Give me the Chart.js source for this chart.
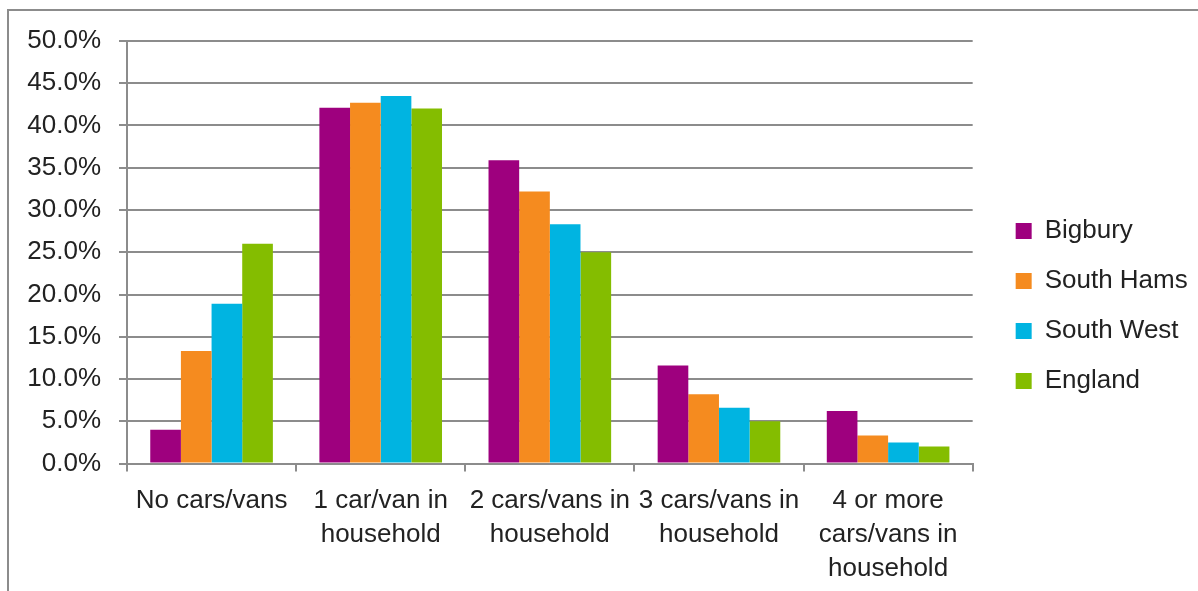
<!DOCTYPE html>
<html>
<head>
<meta charset="utf-8">
<script src="https://cdn.jsdelivr.net/npm/chart.js@4"></script>
<style>
  body { margin: 0; background: #fff; overflow: hidden; }
  #frame { position: absolute; left: 7px; top: 9px; width: 1400px; height: 800px; border: 2px solid #8c8c8c; }
  #cars { position: absolute; left: 0; top: 0; }
</style>
</head>
<body>
<div id="frame"></div>
<canvas id="cars" width="1198" height="591"></canvas>
<script>
const categories = [
    ['No cars/vans'],
    ['1 car/van in', 'household'],
    ['2 cars/vans in', 'household'],
    ['3 cars/vans in', 'household'],
    ['4 or more', 'cars/vans in', 'household']
];
const bigbury    = [4.0, 42.1, 35.9, 11.6, 6.2];
const southHams  = [13.3, 42.7, 32.2, 8.2, 3.3];
const southWest  = [18.9, 43.5, 28.3, 6.6, 2.5];
const england    = [26.0, 42.0, 25.0, 5.0, 2.0];

const gridGrey = '#8c8c8c';
const textColour = '#222';

Chart.defaults.font.family = '"Liberation Sans", Arial, sans-serif';
Chart.defaults.font.size = 26;
Chart.defaults.color = textColour;

// empty axes, only used to leave room around the plot
const spacer = (pos, size) => ({
    type: 'linear',
    position: pos,
    grid: { display: false },
    border: { display: false },
    ticks: { display: false },
    afterFit: s => {
        if (pos === 'top') s.height = size;
        else s.width = size;
    }
});

new Chart(document.getElementById('cars'), {
    type: 'bar',
    data: {
        labels: categories,
        datasets: [
            { label: 'Bigbury', data: bigbury, backgroundColor: '#9e007e' },
            { label: 'South Hams', data: southHams, backgroundColor: '#f58b1f' },
            { label: 'South West', data: southWest, backgroundColor: '#00b4e1' },
            { label: 'England', data: england, backgroundColor: '#84bd00' }
        ]
    },
    options: {
        responsive: false,
        animation: false,
        categoryPercentage: 0.725,
        barPercentage: 1.0,
        layout: { padding: { top: 21, bottom: 0, left: 0, right: 8 } },
        plugins: {
            tooltip: { enabled: false },
            legend: {
                position: 'right',
                labels: {
                    boxWidth: 16,
                    boxHeight: 16,
                    padding: 24,
                    color: textColour,
                    font: { size: 26 }
                }
            }
        },
        scales: {
            x: {
                grid: {
                    offset: true,
                    drawOnChartArea: false,
                    color: gridGrey,
                    lineWidth: 2,
                    tickLength: 8
                },
                border: { color: gridGrey, width: 2 },
                ticks: {
                    padding: 12,
                    maxRotation: 0,
                    autoSkip: false,
                    font: { size: 26, lineHeight: 1.32 }
                },
                afterFit: s => { s.height = 127.5; }
            },
            y: {
                min: 0,
                max: 50,
                grid: { color: gridGrey, lineWidth: 2, tickLength: 8 },
                border: { color: gridGrey, width: 2 },
                ticks: {
                    stepSize: 5,
                    padding: 18,
                    callback: v => v.toFixed(1) + '%'
                },
                afterFit: s => { s.width = 127; }
            },
            gapTop: spacer('top', 20),
            gapRight: spacer('right', 19)
        }
    }
});
</script>
</body>
</html>
